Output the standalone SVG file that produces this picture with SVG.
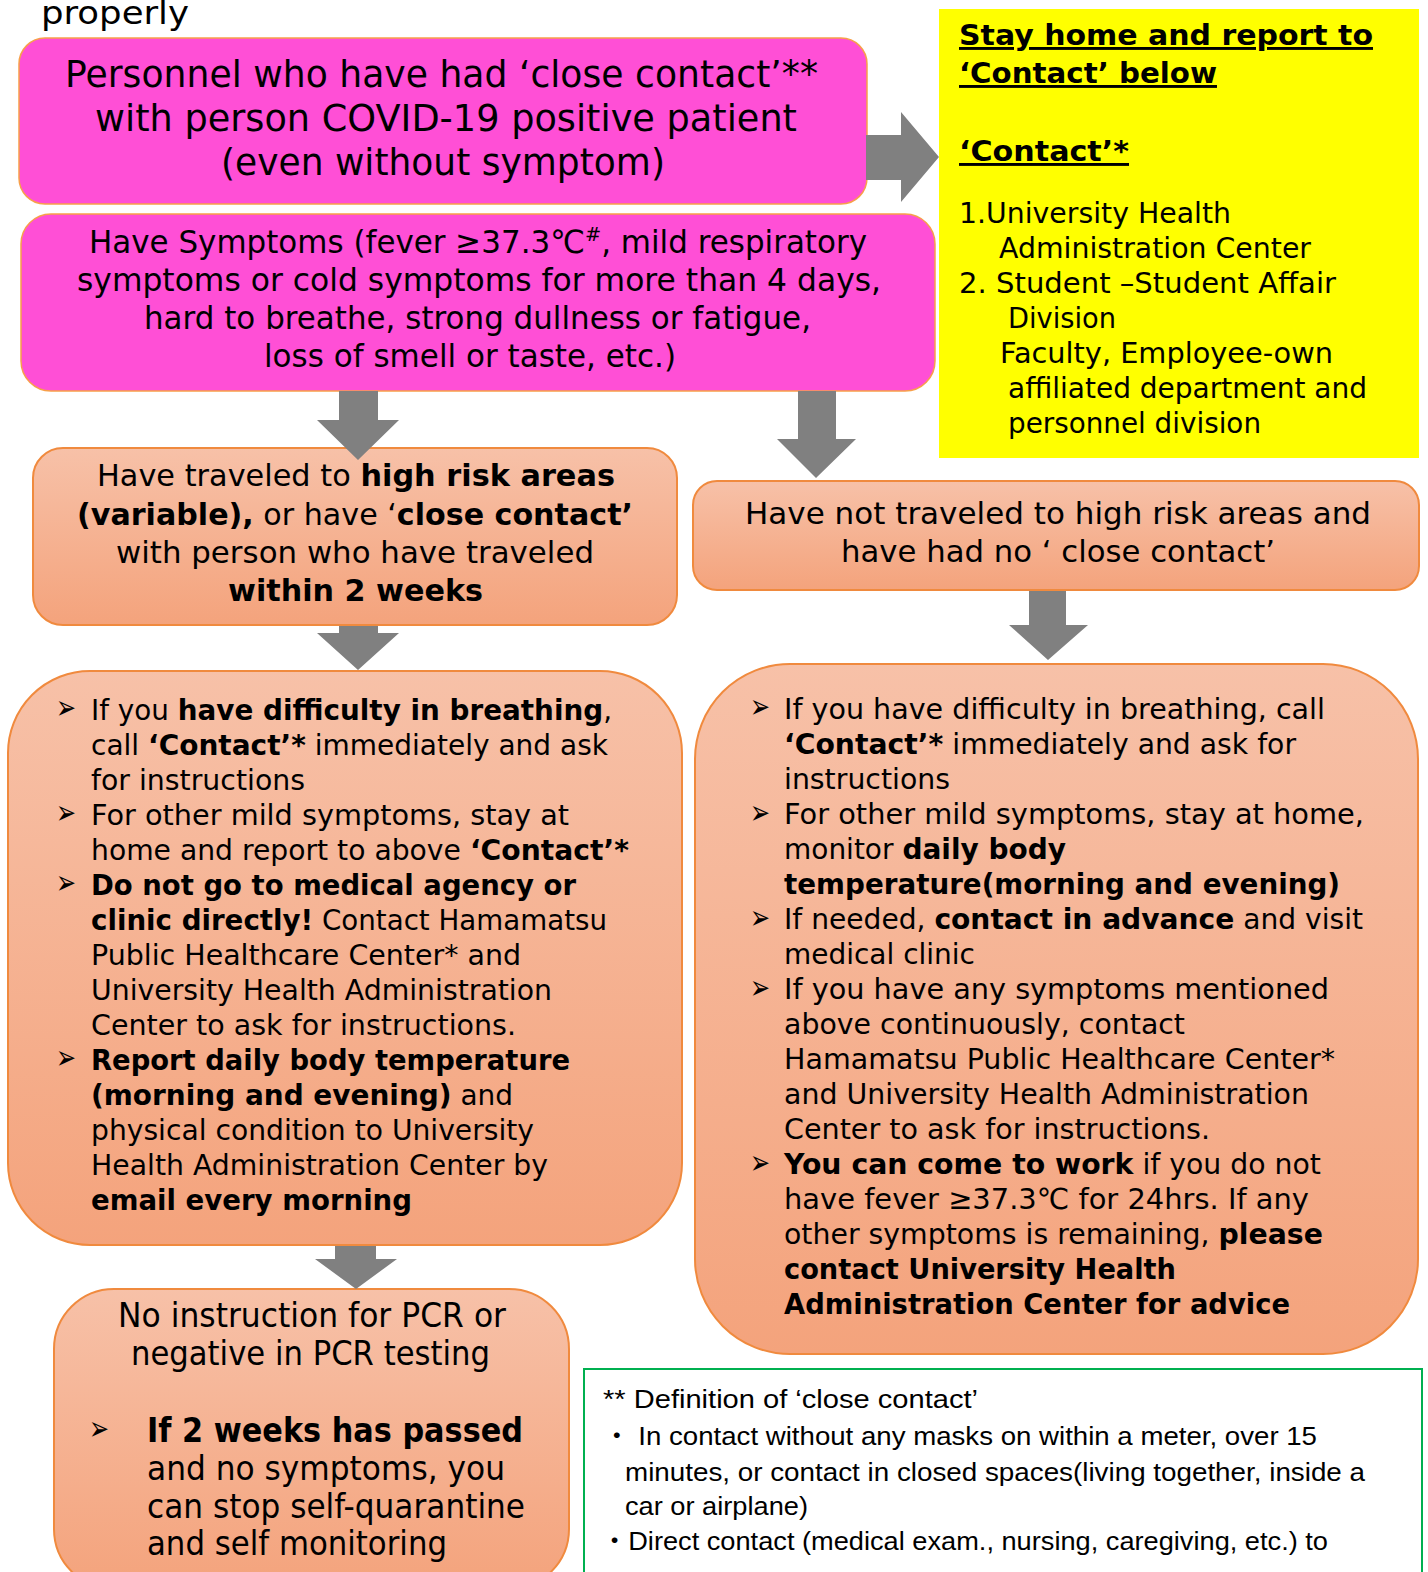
<svg xmlns="http://www.w3.org/2000/svg" width="1428" height="1572" viewBox="0 0 1428 1572">
<defs>
<linearGradient id="peach" x1="0" y1="0" x2="0" y2="1">
<stop offset="0" stop-color="#F7C1A8"/>
<stop offset="1" stop-color="#F4A37C"/>
</linearGradient>
<style>
text{font-family:"DejaVu Sans","Noto Sans CJK JP",sans-serif;fill:#000;}
.b{font-weight:bold;}
.pink{fill:#FF4FD6;stroke:#F7A04A;stroke-width:1.5;}
.peach{fill:url(#peach);stroke:#F08A3E;stroke-width:2;}
.arr{fill:#808080;}
.f38{font-size:38px;}
.f32{font-size:32px;}
.f31{font-size:31px;}
.f30{font-size:29px;}
.f29{font-size:29px;}
.f33{font-size:33px;}
.fn{font-family:"Liberation Sans","Noto Sans CJK JP",sans-serif;font-size:26px;}
.bul{font-size:34px;}
.ul{text-decoration:underline;}
</style>
</defs>
<rect width="1428" height="1572" fill="#FFFFFF"/>

<text class="f32" x="41" y="24" textLength="148" lengthAdjust="spacingAndGlyphs">properly</text>

<g id="node-close-contact">
<rect class="pink" x="19" y="38" width="848" height="166" rx="26"/>
<text class="f38" x="65" y="87" textLength="753" lengthAdjust="spacingAndGlyphs">Personnel who have had ‘close contact’**</text>
<text class="f38" x="95" y="131" textLength="702" lengthAdjust="spacingAndGlyphs">with person COVID-19 positive patient</text>
<text class="f38" x="221" y="175" textLength="444" lengthAdjust="spacingAndGlyphs">(even without symptom)</text>
</g>

<g id="node-contact">
<rect x="939" y="9" width="480" height="449" fill="#FFFF00"/>
<text class="f30 b ul" x="959" y="45" textLength="414" lengthAdjust="spacingAndGlyphs">Stay home and report to</text>
<text class="f30 b ul" x="959" y="83" textLength="258" lengthAdjust="spacingAndGlyphs">‘Contact’ below</text>
<text class="f30 b ul" x="959" y="161" textLength="170" lengthAdjust="spacingAndGlyphs">‘Contact’*</text>
<text class="f29" x="959" y="223" textLength="272" lengthAdjust="spacingAndGlyphs">1.University Health</text>
<text class="f29" x="999" y="258" textLength="312" lengthAdjust="spacingAndGlyphs">Administration Center</text>
<text class="f29" x="959" y="293" textLength="377" lengthAdjust="spacingAndGlyphs">2. Student –Student Affair</text>
<text class="f29" x="1008" y="328" textLength="108" lengthAdjust="spacingAndGlyphs">Division</text>
<text class="f29" x="1000" y="363" textLength="333" lengthAdjust="spacingAndGlyphs">Faculty, Employee-own</text>
<text class="f29" x="1008" y="398" textLength="359" lengthAdjust="spacingAndGlyphs">affiliated department and</text>
<text class="f29" x="1008" y="433" textLength="253" lengthAdjust="spacingAndGlyphs">personnel division</text>
</g>

<g id="node-symptoms">
<rect class="pink" x="21" y="214" width="914" height="177" rx="30"/>
<text class="f32" x="89" y="253" textLength="778" lengthAdjust="spacingAndGlyphs">Have Symptoms (fever ≥37.3℃<tspan font-size="20" dy="-12">#</tspan><tspan dy="12">, mild respiratory</tspan></text>
<text class="f32" x="77" y="291" textLength="804" lengthAdjust="spacingAndGlyphs">symptoms or cold symptoms for more than 4 days,</text>
<text class="f32" x="144" y="329" textLength="667" lengthAdjust="spacingAndGlyphs">hard to breathe, strong dullness or fatigue,</text>
<text class="f32" x="264" y="367" textLength="412" lengthAdjust="spacingAndGlyphs">loss of smell or taste, etc.)</text>
</g>

<g id="node-high-risk">
<rect class="peach" x="33" y="448" width="644" height="177" rx="30"/>
<text class="f31" x="97" y="486" textLength="518" lengthAdjust="spacingAndGlyphs">Have traveled to <tspan class="b">high risk areas</tspan></text>
<text class="f31" x="77" y="525" textLength="556" lengthAdjust="spacingAndGlyphs"><tspan class="b">(variable),</tspan> or have ‘<tspan class="b">close contact’</tspan></text>
<text class="f31" x="116" y="563" textLength="478" lengthAdjust="spacingAndGlyphs">with person who have traveled</text>
<text class="f31 b" x="228" y="601" textLength="255" lengthAdjust="spacingAndGlyphs">within 2 weeks</text>
</g>

<g id="node-no-risk">
<rect class="peach" x="693" y="481" width="726" height="109" rx="24"/>
<text class="f31" x="745" y="524" textLength="626" lengthAdjust="spacingAndGlyphs">Have not traveled to high risk areas and</text>
<text class="f31" x="841" y="562" textLength="434" lengthAdjust="spacingAndGlyphs">have had no ‘ close contact’</text>
</g>

<g id="node-high-risk-actions">
<rect class="peach" x="8" y="671" width="674" height="574" rx="82"/>
<text class="bul" x="56" y="719" textLength="20" lengthAdjust="spacingAndGlyphs">➢</text>
<text class="bul" x="56" y="824" textLength="20" lengthAdjust="spacingAndGlyphs">➢</text>
<text class="bul" x="56" y="894" textLength="20" lengthAdjust="spacingAndGlyphs">➢</text>
<text class="bul" x="56" y="1069" textLength="20" lengthAdjust="spacingAndGlyphs">➢</text>
<text class="f30" x="91" y="720" textLength="521" lengthAdjust="spacingAndGlyphs">If you <tspan class="b">have difficulty in breathing</tspan>,</text>
<text class="f30" x="91" y="755" textLength="517" lengthAdjust="spacingAndGlyphs">call <tspan class="b">‘Contact’*</tspan> immediately and ask</text>
<text class="f30" x="91" y="790" textLength="214" lengthAdjust="spacingAndGlyphs">for instructions</text>
<text class="f30" x="91" y="825" textLength="478" lengthAdjust="spacingAndGlyphs">For other mild symptoms, stay at</text>
<text class="f30" x="91" y="860" textLength="538" lengthAdjust="spacingAndGlyphs">home and report to above <tspan class="b">‘Contact’*</tspan></text>
<text class="f30 b" x="91" y="895" textLength="485" lengthAdjust="spacingAndGlyphs">Do not go to medical agency or</text>
<text class="f30" x="91" y="930" textLength="516" lengthAdjust="spacingAndGlyphs"><tspan class="b">clinic directly!</tspan> Contact Hamamatsu</text>
<text class="f30" x="91" y="965" textLength="430" lengthAdjust="spacingAndGlyphs">Public Healthcare Center* and</text>
<text class="f30" x="91" y="1000" textLength="461" lengthAdjust="spacingAndGlyphs">University Health Administration</text>
<text class="f30" x="91" y="1035" textLength="425" lengthAdjust="spacingAndGlyphs">Center to ask for instructions.</text>
<text class="f30 b" x="91" y="1070" textLength="479" lengthAdjust="spacingAndGlyphs">Report daily body temperature</text>
<text class="f30" x="91" y="1105" textLength="422" lengthAdjust="spacingAndGlyphs"><tspan class="b">(morning and evening)</tspan> and</text>
<text class="f30" x="91" y="1140" textLength="443" lengthAdjust="spacingAndGlyphs">physical condition to University</text>
<text class="f30" x="91" y="1175" textLength="457" lengthAdjust="spacingAndGlyphs">Health Administration Center by</text>
<text class="f30 b" x="91" y="1210" textLength="321" lengthAdjust="spacingAndGlyphs">email every morning</text>
</g>

<g id="node-no-risk-actions">
<rect class="peach" x="695" y="664" width="723" height="690" rx="95"/>
<text class="bul" x="750" y="718" textLength="20" lengthAdjust="spacingAndGlyphs">➢</text>
<text class="bul" x="750" y="824" textLength="20" lengthAdjust="spacingAndGlyphs">➢</text>
<text class="bul" x="750" y="929" textLength="20" lengthAdjust="spacingAndGlyphs">➢</text>
<text class="bul" x="750" y="999" textLength="20" lengthAdjust="spacingAndGlyphs">➢</text>
<text class="bul" x="750" y="1174" textLength="20" lengthAdjust="spacingAndGlyphs">➢</text>
<text class="f30" x="784" y="719" textLength="541" lengthAdjust="spacingAndGlyphs">If you have difficulty in breathing, call</text>
<text class="f30" x="784" y="754" textLength="512" lengthAdjust="spacingAndGlyphs"><tspan class="b">‘Contact’*</tspan> immediately and ask for</text>
<text class="f30" x="784" y="789" textLength="166" lengthAdjust="spacingAndGlyphs">instructions</text>
<text class="f30" x="784" y="824" textLength="580" lengthAdjust="spacingAndGlyphs">For other mild symptoms, stay at home,</text>
<text class="f30" x="784" y="859" textLength="282" lengthAdjust="spacingAndGlyphs">monitor <tspan class="b">daily body</tspan></text>
<text class="f30 b" x="784" y="894" textLength="556" lengthAdjust="spacingAndGlyphs">temperature(morning and evening)</text>
<text class="f30" x="784" y="929" textLength="579" lengthAdjust="spacingAndGlyphs">If needed, <tspan class="b">contact in advance</tspan> and visit</text>
<text class="f30" x="784" y="964" textLength="191" lengthAdjust="spacingAndGlyphs">medical clinic</text>
<text class="f30" x="784" y="999" textLength="545" lengthAdjust="spacingAndGlyphs">If you have any symptoms mentioned</text>
<text class="f30" x="784" y="1034" textLength="401" lengthAdjust="spacingAndGlyphs">above continuously, contact</text>
<text class="f30" x="784" y="1069" textLength="551" lengthAdjust="spacingAndGlyphs">Hamamatsu Public Healthcare Center*</text>
<text class="f30" x="784" y="1104" textLength="525" lengthAdjust="spacingAndGlyphs">and University Health Administration</text>
<text class="f30" x="784" y="1139" textLength="426" lengthAdjust="spacingAndGlyphs">Center to ask for instructions.</text>
<text class="f30" x="784" y="1174" textLength="537" lengthAdjust="spacingAndGlyphs"><tspan class="b">You can come to work</tspan> if you do not</text>
<text class="f30" x="784" y="1209" textLength="525" lengthAdjust="spacingAndGlyphs">have fever ≥37.3℃ for 24hrs. If any</text>
<text class="f30" x="784" y="1244" textLength="539" lengthAdjust="spacingAndGlyphs">other symptoms is remaining, <tspan class="b">please</tspan></text>
<text class="f30 b" x="784" y="1279" textLength="392" lengthAdjust="spacingAndGlyphs">contact University Health</text>
<text class="f30 b" x="784" y="1314" textLength="506" lengthAdjust="spacingAndGlyphs">Administration Center for advice</text>
</g>

<g id="node-pcr">
<rect class="peach" x="54" y="1289" width="515" height="300" rx="60"/>
<text class="f33" x="118" y="1327" textLength="388" lengthAdjust="spacingAndGlyphs">No instruction for PCR or</text>
<text class="f33" x="131" y="1365" textLength="359" lengthAdjust="spacingAndGlyphs">negative in PCR testing</text>
<text class="bul" x="89" y="1440" textLength="20" lengthAdjust="spacingAndGlyphs">➢</text>
<text class="f33 b" x="147" y="1442" textLength="376" lengthAdjust="spacingAndGlyphs">If 2 weeks has passed</text>
<text class="f33" x="147" y="1480" textLength="358" lengthAdjust="spacingAndGlyphs">and no symptoms, you</text>
<text class="f33" x="147" y="1518" textLength="378" lengthAdjust="spacingAndGlyphs">can stop self-quarantine</text>
<text class="f33" x="147" y="1555" textLength="300" lengthAdjust="spacingAndGlyphs">and self monitoring</text>
</g>

<g id="node-definition">
<rect x="584" y="1369" width="838" height="220" fill="#FFFFFF" stroke="#00B050" stroke-width="2"/>
<text class="fn" x="603" y="1408" textLength="375" lengthAdjust="spacingAndGlyphs">** Definition of ‘close contact’</text>
<text class="fn" x="603" y="1445" textLength="714" lengthAdjust="spacingAndGlyphs">・ In contact without any masks on within a meter, over 15</text>
<text class="fn" x="625" y="1481" textLength="740" lengthAdjust="spacingAndGlyphs">minutes, or contact in closed spaces(living together, inside a</text>
<text class="fn" x="625" y="1515" textLength="183" lengthAdjust="spacingAndGlyphs">car or airplane)</text>
<text class="fn" x="601" y="1550" textLength="727" lengthAdjust="spacingAndGlyphs">・Direct contact (medical exam., nursing, caregiving, etc.) to</text>
</g>

<g id="connectors">
<polygon class="arr" points="866,135 901,135 901,112 939,157 901,202 901,180 866,180"/>
<polygon class="arr" points="339,391 378,391 378,420 399,420 358,460 317,420 339,420"/>
<polygon class="arr" points="798,391 836,391 836,439 856,439 816,478 777,439 798,439"/>
<polygon class="arr" points="339,626 378,626 378,633 399,633 358,670 317,633 339,633"/>
<polygon class="arr" points="1029,591 1066,591 1066,625 1088,625 1048,660 1009,625 1029,625"/>
<polygon class="arr" points="335,1246 376,1246 376,1259 397,1259 356,1289 315,1259 335,1259"/>
</g>
</svg>
